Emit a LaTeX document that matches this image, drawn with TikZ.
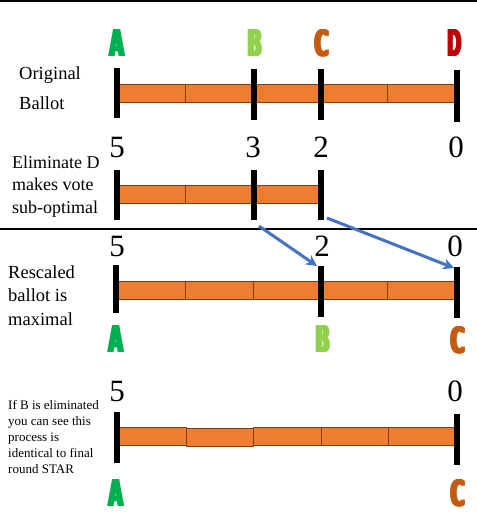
\documentclass[tikz,border=0pt]{standalone}
\usepackage{fontspec}
\setmainfont{Liberation Serif}
\newfontfamily\candfont{DejaVu Sans Condensed Bold}
\usetikzlibrary{arrows.meta}
\definecolor{barfill}{HTML}{ED7D31}
\definecolor{barline}{HTML}{843C0C}
\definecolor{cA}{HTML}{00B050}
\definecolor{cB}{HTML}{92D050}
\definecolor{cC}{HTML}{C55A11}
\definecolor{cD}{HTML}{C00000}
\definecolor{arrowblue}{HTML}{4472C4}
\newcommand\candlet[2]{\textcolor{#1}{\resizebox{17pt}{27pt}{\candfont\fontsize{10}{10}\selectfont\rlap{#2}\kern0.45pt\rlap{#2}\kern0.45pt\rlap{#2}\kern0.45pt#2}}}
\tikzset{
  seg/.style={fill=barfill,draw=barline,line width=0.8pt},
  tick/.style={line width=6pt},
  num/.style={anchor=base,inner sep=0pt,font=\fontsize{31}{31}\selectfont},
  cand/.style={anchor=south,inner sep=0pt},
  lblA/.style={anchor=base west,inner sep=0pt,font=\fontsize{18.5}{20}\selectfont},
  lblB/.style={anchor=base west,inner sep=0pt,font=\fontsize{18}{20}\selectfont},
  lblC/.style={anchor=base west,inner sep=0pt,font=\fontsize{13}{14}\selectfont},
  conn/.style={draw=arrowblue,line width=3pt,-{Stealth[length=11pt,width=11pt]}},
  sep/.style={line width=1.5pt}
}
\begin{document}
\begin{tikzpicture}[x=1pt,y=-1pt]
\useasboundingbox (0,0) rectangle (477,531);
% separators
\coordinate (t0) at (0,1);
\coordinate (t1) at (477,1);
\draw[line width=2.5pt] (t0) -- (t1);
\coordinate (s0) at (0,229);
\coordinate (s1) at (477,229);
\draw[sep] (s0) -- (s1);

% ---------- Row 1 ----------
\node[lblA] (l1a) at (19,79) {Original};
\node[lblA] (l1b) at (19,109) {Ballot};
\foreach \i in {0,...,4}{
  \draw[seg] (118.3+\i*67.35,84) rectangle (118.3+\i*67.35+67.35,102);
}
\draw[tick] (116.5,68) -- (116.5,118);
\draw[tick] (253.7,69) -- (253.7,120);
\draw[tick] (321,69) -- (321,120);
\draw[tick] (457,70) -- (457,122);
\node[cand] (a1) at (117,57) {\candlet{cA}{A}};
\node[cand] (b1) at (254.7,57) {\candlet{cB}{B}};
\node[cand] (c1) at (321.7,57) {\candlet{cC}{C}};
\node[cand] (d1) at (454.7,57) {\candlet{cD}{D}};

% ---------- Row 2 ----------
\node[num] (n25) at (117,157) {5};
\node[num] (n23) at (253,157) {3};
\node[num] (n22) at (321,157) {2};
\node[num] (n20) at (456,157) {0};
\node[lblB] (l2a) at (12,168) {Eliminate D};
\node[lblB] (l2b) at (12,190.5) {makes vote};
\node[lblB] (l2c) at (12,213) {sub-optimal};
\foreach \i in {0,...,2}{
  \draw[seg] (118.3+\i*67.35,185) rectangle (118.3+\i*67.35+67.35,203);
}
\draw[tick] (116.5,170) -- (116.5,220);
\draw[tick] (254.3,170) -- (254.3,220);
\draw[tick] (321,170) -- (321,220);
\coordinate (aBs) at (259,226);
\coordinate (aCs) at (327,218);

% ---------- Row 3 ----------
\node[num] (n35) at (117,256) {5};
\node[num] (n32) at (322,256) {2};
\node[num] (n30) at (455,256) {0};
\node[lblA] (l3a) at (8,278) {Rescaled};
\node[lblA] (l3b) at (8,301.5) {ballot is};
\node[lblA] (l3c) at (8,325) {maximal};
\foreach \i in {0,...,4}{
  \draw[seg] (118.3+\i*67.35,281) rectangle (118.3+\i*67.35+67.35,299);
}
\draw[tick] (116,265) -- (116,313);
\draw[tick] (321,266) -- (321,317);
\draw[tick] (457,267) -- (457,318);
\coordinate (aBe) at (317,266);
\coordinate (aCe) at (454,268);
\node[cand] (a3) at (116,353) {\candlet{cA}{A}};
\node[cand] (b3) at (323,353) {\candlet{cB}{B}};
\node[cand] (c3) at (458,354) {\candlet{cC}{C}};

% arrows
\draw[conn] (aBs) -- (aBe);
\draw[conn] (aCs) -- (aCe);

% ---------- Row 4 ----------
\node[num] (n45) at (117,401) {5};
\node[num] (n40) at (455,401) {0};
\node[lblC] (l4a) at (8,409) {If B is eliminated};
\node[lblC] (l4b) at (8,425) {you can see this};
\node[lblC] (l4c) at (8,441) {process is};
\node[lblC] (l4d) at (8,457) {identical to final};
\node[lblC] (l4e) at (8,473) {round STAR};
\draw[seg] (118.8,427.5) rectangle (186,445.5);
\draw[seg] (186,428.5) rectangle (253.5,446.5);
\draw[seg] (253.5,427.5) rectangle (321,445.5);
\draw[seg] (321,427.5) rectangle (388.2,445.5);
\draw[seg] (388.2,427.5) rectangle (455.5,445.5);
\draw[tick] (117,412) -- (117,463);
\draw[tick] (457,414) -- (457,465);
\node[cand] (a4) at (116,507) {\candlet{cA}{A}};
\node[cand] (c4) at (458,507) {\candlet{cC}{C}};
\end{tikzpicture}
\end{document}
